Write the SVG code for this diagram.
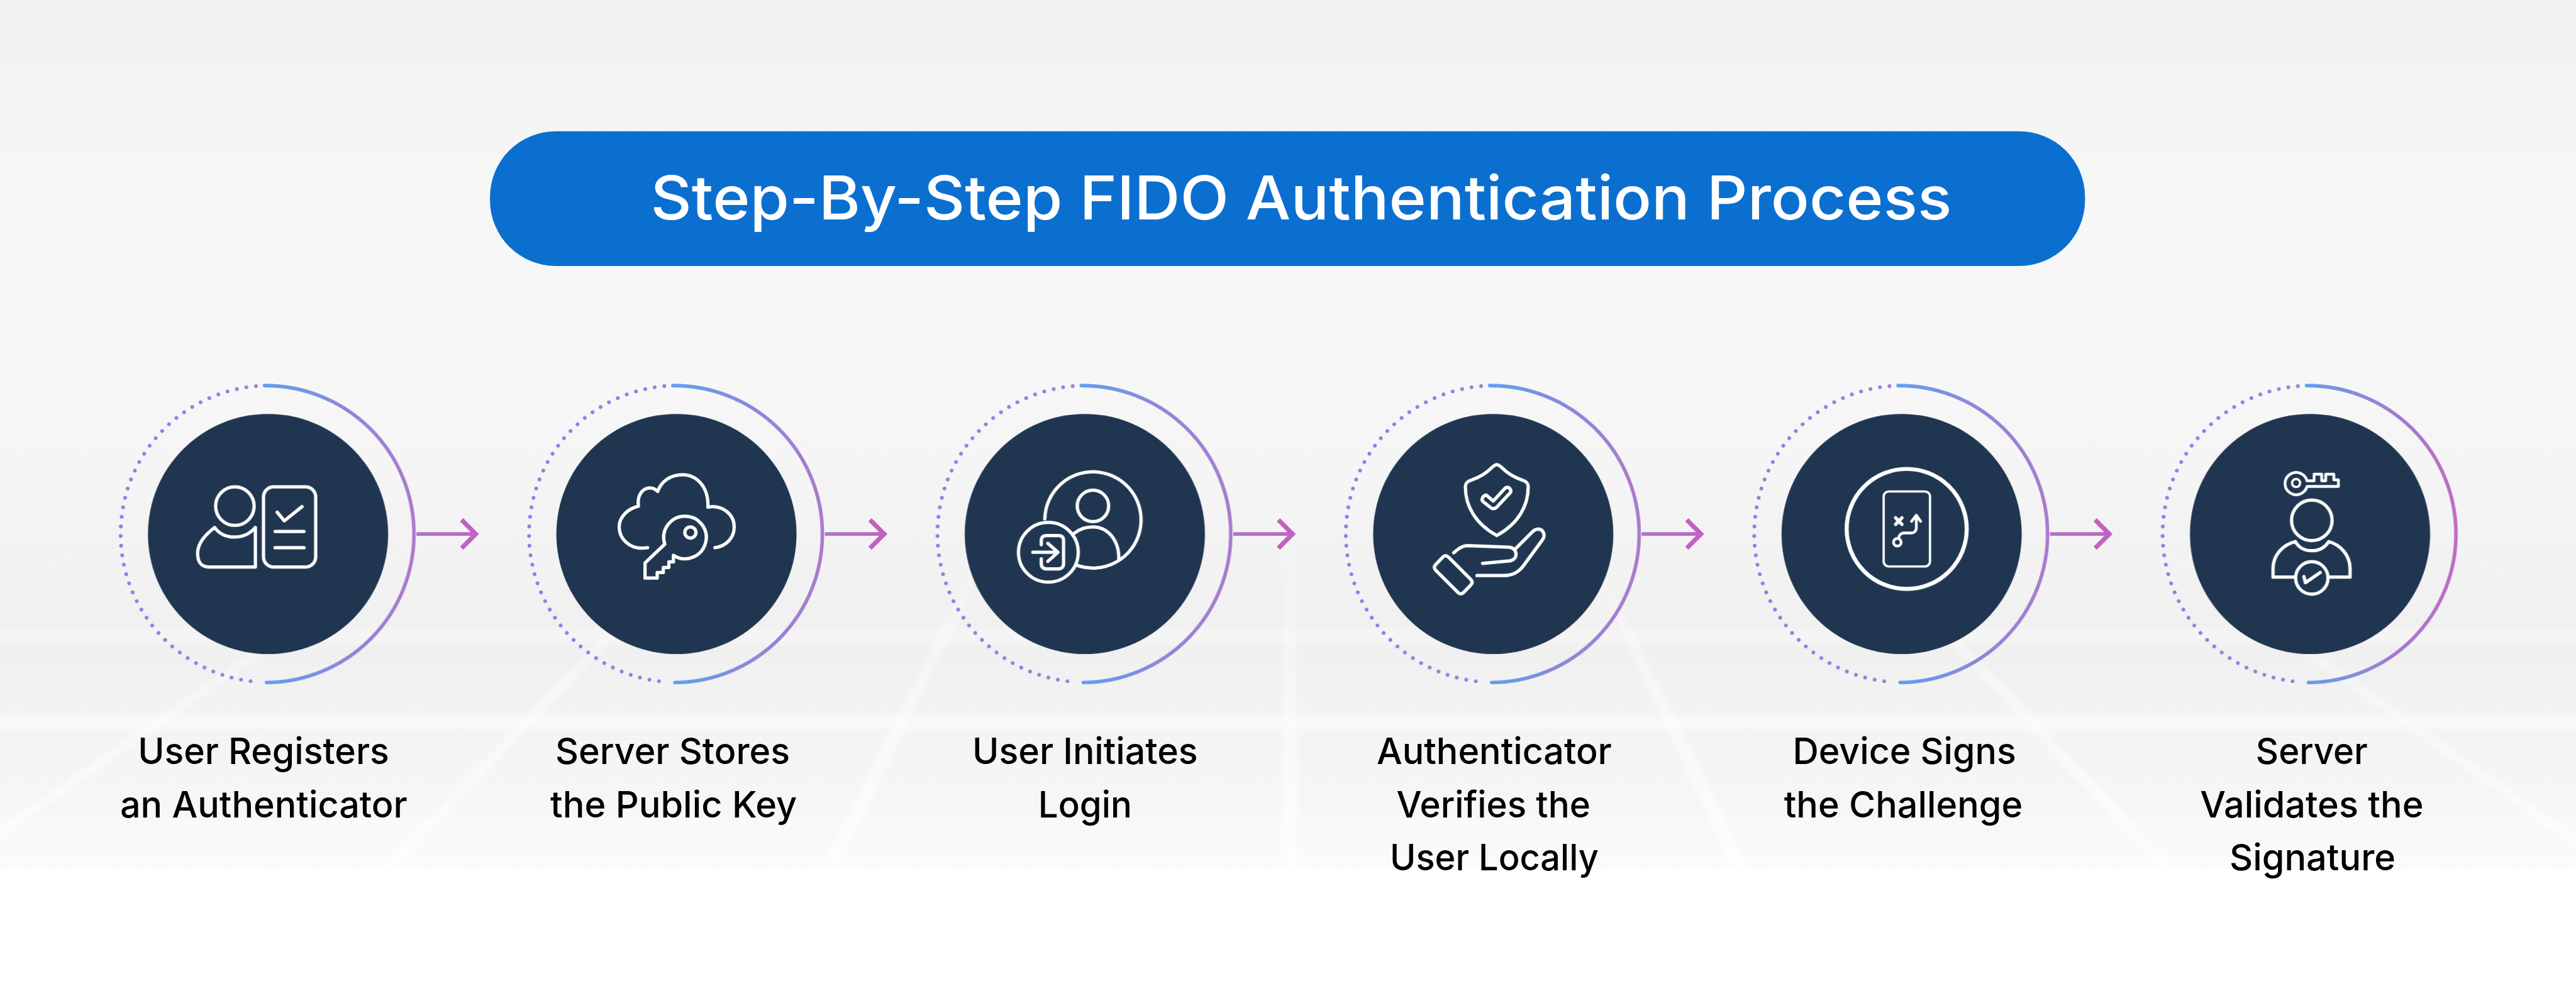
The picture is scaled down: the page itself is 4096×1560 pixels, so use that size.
<svg xmlns="http://www.w3.org/2000/svg" width="4096" height="1560" viewBox="0 0 4096 1560">
<style>
.ic{fill:none;stroke:#fff;stroke-width:6.5;stroke-linecap:round;stroke-linejoin:round}
.lb{font-family:Inter,"Liberation Sans",sans-serif;font-weight:500;font-size:72px;fill:#000;text-anchor:middle}
.ttl{font-family:Inter,"Liberation Sans",sans-serif;font-weight:500;font-size:120px;fill:#fff}
.gl{fill:url(#gridFade)}
.gh{fill:#fff}
.shaft{stroke:url(#arrowGrad);stroke-width:7;fill:none}
.head{stroke:#c262c0;stroke-width:9;fill:none}
</style>
<defs>
<linearGradient id="bg" gradientUnits="userSpaceOnUse" x1="0" y1="0" x2="0" y2="1715">
<stop offset="0" stop-color="#f2f2f2"/><stop offset=".08" stop-color="#f3f3f3"/><stop offset=".24" stop-color="#f6f7f7"/><stop offset=".44" stop-color="#f8f7f8"/><stop offset=".58" stop-color="#f4f4f5"/><stop offset=".75" stop-color="#f0f0f0"/><stop offset=".82" stop-color="#f3f3f3"/><stop offset=".92" stop-color="#f6f6f6"/><stop offset="1" stop-color="#fbfbfb"/>
</linearGradient>
<linearGradient id="gridFade" gradientUnits="userSpaceOnUse" x1="0" y1="1000" x2="0" y2="1715">
<stop offset="0" stop-color="#fff" stop-opacity="0"/><stop offset=".4" stop-color="#fff" stop-opacity=".35"/><stop offset="1" stop-color="#fff" stop-opacity=".6"/>
</linearGradient>
<linearGradient id="ringGrad" x1="0" y1="0" x2="1" y2="0"><stop offset="0" stop-color="#5e9ff0"/><stop offset=".5" stop-color="#8a88da"/><stop offset="1" stop-color="#ab7acd"/></linearGradient>
<linearGradient id="ringGradLast" x1="0" y1="0" x2="1" y2="0"><stop offset="0" stop-color="#5e9ff0"/><stop offset=".5" stop-color="#9a80d4"/><stop offset="1" stop-color="#bf6ac2"/></linearGradient>
<linearGradient id="dotGrad" x1="0" y1="0" x2="1" y2="0"><stop offset="0" stop-color="#8484e2"/><stop offset="1" stop-color="#9880da"/></linearGradient>
<linearGradient id="arrowGrad" gradientUnits="userSpaceOnUse" x1="293" y1="0" x2="412" y2="0"><stop offset="0" stop-color="#ae74cc"/><stop offset="1" stop-color="#c362c0"/></linearGradient>
<filter id="b1" x="-100" y="900" width="5300" height="900" filterUnits="userSpaceOnUse"><feGaussianBlur stdDeviation="5"/></filter>
<filter id="b2" x="-100" y="900" width="5300" height="900" filterUnits="userSpaceOnUse"><feGaussianBlur stdDeviation="9"/></filter>
<clipPath id="bgClip"><rect width="5084" height="1715"/></clipPath>
<g id="disc">
<path d="M-7 -293 A293 293 0 0 1 -3 293" fill="none" stroke-width="7" stroke-linecap="round" stroke="url(#ringGrad)"/>
<path d="M-24 -292 A293 293 0 0 0 -20 292" fill="none" stroke="url(#dotGrad)" stroke-width="7.5" stroke-linecap="round" stroke-dasharray="0.01 19.04"/>
<circle r="237" fill="#203650"/>
</g>
<g id="discLast">
<path d="M-7 -293 A293 293 0 0 1 -3 293" fill="none" stroke-width="7" stroke-linecap="round" stroke="url(#ringGradLast)"/>
<path d="M-24 -292 A293 293 0 0 0 -20 292" fill="none" stroke="url(#dotGrad)" stroke-width="7.5" stroke-linecap="round" stroke-dasharray="0.01 19.04"/>
<circle r="237" fill="#203650"/>
</g>
</defs>
<rect width="4096" height="1560" fill="#fff"/>
<g transform="scale(.80567)">
<g id="background">
<rect width="5084" height="1715" fill="url(#bg)"/>
<g clip-path="url(#bgClip)">
<g filter="url(#b2)">
<rect class="gh" x="-50" y="1082" width="5200" height="8" opacity=".2"/>
<rect class="gh" x="-50" y="1244" width="5200" height="24" opacity=".4"/>
<rect class="gh" x="-50" y="1414" width="5200" height="26" opacity=".5"/>
<rect class="gh" x="-50" y="1618" width="5200" height="14" opacity=".4"/>
</g>
<g filter="url(#b1)">
<path class="gl" d="M2545 -135L-1090 1715H-1054Z"/>
<path class="gl" d="M2545 -135L-118 1715H-84Z"/>
<path class="gl" d="M2545 -135L745 1715H779Z"/>
<path class="gl" d="M2545 -135L1620 1715H1654Z"/>
<path class="gl" d="M2545 -135L2528 1715H2562Z"/>
<path class="gl" d="M2545 -135L3420 1715H3454Z"/>
<path class="gl" d="M2545 -135L4263 1715H4297Z"/>
<path class="gl" d="M2545 -135L5143 1715H5177Z"/>
<path class="gl" d="M2545 -135L6023 1715H6057Z"/>
<path class="gl" d="M2545 -135L6903 1715H6937Z"/>
</g>
</g>
</g>
<g id="title">
<rect x="967" y="259" width="3148" height="266" rx="130" fill="#0b6fd0"/>
<text class="ttl" x="1284" y="433" textLength="2568" lengthAdjust="spacingAndGlyphs">Step-By-Step FIDO Authentication Process</text>
</g>
<g id="connectors">
<g transform="translate(529 1054)"><path class="shaft" d="M293 0H410"/><path class="head" d="M382 -28L410 0L382 28"/></g>
<g transform="translate(1335 1054)"><path class="shaft" d="M293 0H410"/><path class="head" d="M382 -28L410 0L382 28"/></g>
<g transform="translate(2141 1054)"><path class="shaft" d="M293 0H410"/><path class="head" d="M382 -28L410 0L382 28"/></g>
<g transform="translate(2947 1054)"><path class="shaft" d="M293 0H410"/><path class="head" d="M382 -28L410 0L382 28"/></g>
<g transform="translate(3753 1054)"><path class="shaft" d="M293 0H410"/><path class="head" d="M382 -28L410 0L382 28"/></g>
</g>
<g id="node1">
<g transform="translate(529 1054)"><use href="#disc"/>
<g class="ic"><circle cx="-65.5" cy="-55" r="38"/>
<path d="M-105.5 -13C-96 0 -82 6 -66 6C-50 6 -36 0 -25 -13V65L-118 65C-132 64 -139 56 -139 38C-139 17 -123 1 -105.5 -13Z"/>
<rect x="-9" y="-93" width="103" height="158" rx="20"/>
<path d="M18 -43L32 -26L67 -54"/><path d="M14 -5H71M14 27H71"/></g></g>
<text class="lb" x="520" y="1508.5" textLength="496" lengthAdjust="spacingAndGlyphs">User Registers</text>
<text class="lb" x="520.5" y="1613" textLength="567" lengthAdjust="spacingAndGlyphs">an Authenticator</text>
</g>
<g id="node2">
<g transform="translate(1335 1054)"><use href="#disc"/>
<g class="ic"><path d="M-57 27C-60 27 -64 28 -68 28C-95 28 -113 8 -113 -14C-113 -34 -96 -50 -75 -55C-78 -75 -68 -91 -52 -91C-46 -91 -41 -88 -37 -84C-30 -104 -12 -117 12 -117C42 -117 64 -90 62 -53C90 -58 114 -40 114 -14C114 8 98 24 76 27"/>
<path d="M-6 42L-6 55H-15V66H-26V76H-38V87H-62V57L-23 20A42 42 0 1 1 -6 42Z"/>
<circle cx="27.5" cy="-3" r="11"/></g></g>
<text class="lb" x="1327.5" y="1508.5" textLength="463" lengthAdjust="spacingAndGlyphs">Server Stores</text>
<text class="lb" x="1329.5" y="1613" textLength="487" lengthAdjust="spacingAndGlyphs">the Public Key</text>
</g>
<g id="node3">
<g transform="translate(2141 1054)"><use href="#disc"/>
<g class="ic"><path d="M-79 -30A95 95 0 1 1 -15 62"/>
<circle cx="16" cy="-55.5" r="31"/>
<path d="M-20 -2C-10 -10 3 -14 16 -14C45 -14 68 12 67 50"/>
<circle cx="-72" cy="36" r="59"/>
<path d="M-86 21V13C-86 6 -82 3 -75 3H-52C-45 3 -42 7 -42 13V58C-42 65 -46 69 -53 69H-74C-82 69 -86 65 -86 58V49"/>
<path d="M-102.5 36H-55M-73 18.5L-53 36L-73 54"/></g></g>
<text class="lb" x="2141.5" y="1508.5" textLength="445" lengthAdjust="spacingAndGlyphs">User Initiates</text>
<text class="lb" x="2141.5" y="1613" textLength="185" lengthAdjust="spacingAndGlyphs">Login</text>
</g>
<g id="node4">
<g transform="translate(2947 1054)"><use href="#disc"/>
<g class="ic"><path d="M7 -137C3 -137 0 -134 -3 -131C-14 -120 -27 -112 -42 -107C-52 -104 -55 -100 -55 -93C-55 -55 -35 -20 7 3C49 -20 69 -55 69 -93C69 -100 66 -104 56 -107C41 -112 28 -120 17 -131C14 -134 11 -137 7 -137Z"/>
<path d="M-22 -69Q-20 -76 -14 -77L0 -65L24 -91Q30 -94 34 -88Q36 -84 33 -81L6 -52Q0 -48 -5 -52L-20 -64Q-23 -67 -22 -69Z"/>
<path d="M-88 46L-44.6 89.4Q-39 95 -44.5 100.8L-58.5 115.4Q-64 121 -69.6 115.4L-113.4 71.6Q-119 66 -113.5 60.2L-99.5 45.6Q-94 40 -88 46Z"/>
<path d="M-78 37C-70 30 -62 23 -50 23L32 26C40 27 45 33 45 40C45 47 40 52 32 53L-21 58"/>
<path d="M43 30L78 -5C86 -13 96 -10 99 -3C102 3 100 8 96 13L60 62C50 76 38 82 20 82L-32 82"/></g></g>
<text class="lb" x="2949" y="1508.5" textLength="464" lengthAdjust="spacingAndGlyphs">Authenticator</text>
<text class="lb" x="2947.5" y="1613" textLength="383" lengthAdjust="spacingAndGlyphs">Verifies the</text>
<text class="lb" x="2949" y="1718" textLength="412" lengthAdjust="spacingAndGlyphs">User Locally</text>
</g>
<g id="node5">
<g transform="translate(3753 1054)"><use href="#disc"/>
<g class="ic"><circle cx="10" cy="-10" r="118.5" stroke-width="8"/>
<rect x="-35.5" y="-84" width="91.5" height="148" rx="10" stroke-width="4.5"/>
<path d="M-12 -32L0.7 -19M0.7 -32L-12 -19"/>
<circle cx="-8.5" cy="16.4" r="7.5" stroke-width="5.5"/>
<path d="M-6 8C-5 1 0 -2 5 -2H18C25 -2 29 -6 29 -13V-36M19.5 -25L29 -37L37.5 -25" stroke-width="5.5"/></g></g>
<text class="lb" x="3758.5" y="1508.5" textLength="441" lengthAdjust="spacingAndGlyphs">Device Signs</text>
<text class="lb" x="3756.5" y="1613" textLength="471" lengthAdjust="spacingAndGlyphs">the Challenge</text>
</g>
<g id="node6">
<g transform="translate(4559 1054)"><use href="#discLast"/>
<g class="ic"><path d="M-6 -105H8V-118H23V-105H31V-118H47V-107H56V-94H-6A22 22 0 1 1 -6 -105Z" stroke-width="5.5"/>
<circle cx="-27.5" cy="-100.6" r="8" stroke-width="4.5"/>
<circle cx="3.5" cy="-27" r="40"/>
<path d="M-29 15C-22 27 -10 33 3.5 33C17 33 29 27 37 15C60 21 79 42 79 68V85H36M-29 85H-73V68C-73 42 -54 21 -29 15"/>
<circle cx="3.5" cy="86.7" r="32"/>
<path d="M-12 84L-9 96L20 76"/></g></g>
<text class="lb" x="4562.5" y="1508.5" textLength="221" lengthAdjust="spacingAndGlyphs">Server</text>
<text class="lb" x="4562.5" y="1613" textLength="441" lengthAdjust="spacingAndGlyphs">Validates the</text>
<text class="lb" x="4564" y="1718" textLength="328" lengthAdjust="spacingAndGlyphs">Signature</text>
</g>
</g>
</svg>
